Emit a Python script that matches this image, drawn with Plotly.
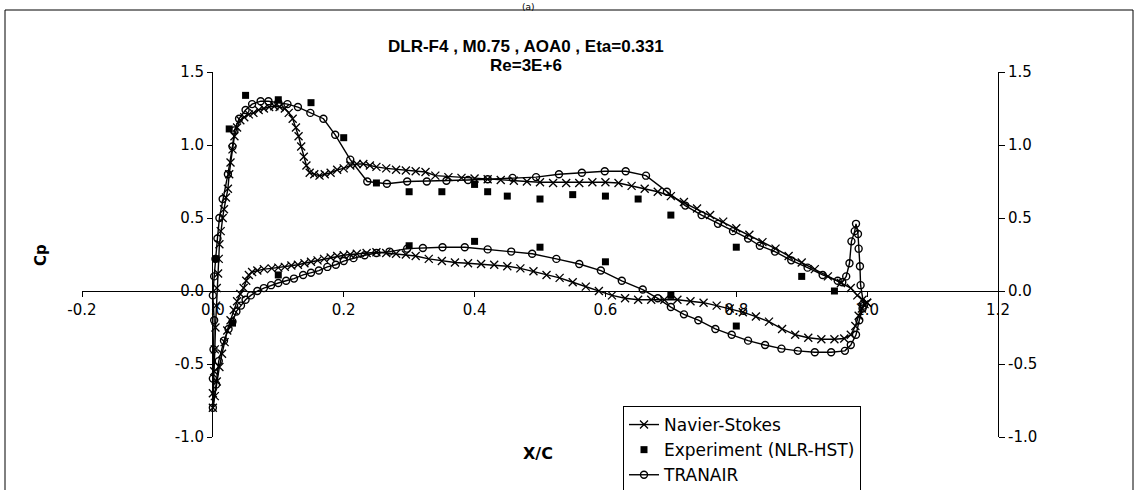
import plotly.graph_objects as go

# ---------------- data ----------------
ns_upper_x = [0.000, 0.000, 0.002, 0.003, 0.004, 0.005, 0.006, 0.008, 0.009, 0.010, 0.012, 0.015,
              0.017, 0.020, 0.023, 0.025, 0.027, 0.030, 0.033, 0.037, 0.042, 0.048, 0.055, 0.062,
              0.070, 0.078, 0.086, 0.094, 0.102, 0.110, 0.116, 0.122, 0.127, 0.131, 0.135, 0.139,
              0.143, 0.148, 0.155, 0.163, 0.171, 0.180, 0.190, 0.200, 0.210, 0.220, 0.230, 0.240,
              0.250, 0.265, 0.280, 0.295, 0.310, 0.325, 0.340, 0.360, 0.380, 0.400, 0.420, 0.440,
              0.460, 0.480, 0.500, 0.520, 0.540, 0.560, 0.580, 0.600, 0.620, 0.640, 0.660, 0.680,
              0.700, 0.720, 0.740, 0.760, 0.780, 0.800, 0.820, 0.840, 0.860, 0.880, 0.900, 0.920,
              0.940, 0.960, 0.975, 0.985, 0.993, 1.000]
ns_upper_y = [-0.80, -0.70, -0.55, -0.40, -0.25, -0.10, 0.02, 0.12, 0.22, 0.32, 0.41, 0.50,
              0.56, 0.64, 0.70, 0.80, 0.88, 0.97, 1.06, 1.12, 1.17, 1.19, 1.21, 1.22,
              1.24, 1.25, 1.26, 1.265, 1.26, 1.25, 1.22, 1.18, 1.12, 1.06, 0.99, 0.92,
              0.86, 0.81, 0.80, 0.79, 0.80, 0.81, 0.83, 0.84, 0.86, 0.87, 0.87, 0.86,
              0.85, 0.84, 0.83, 0.825, 0.82, 0.815, 0.79, 0.78, 0.775, 0.77, 0.765, 0.76,
              0.755, 0.75, 0.745, 0.74, 0.74, 0.74, 0.745, 0.745, 0.74, 0.72, 0.70, 0.68,
              0.65, 0.61, 0.565, 0.52, 0.475, 0.43, 0.385, 0.335, 0.29, 0.24, 0.195, 0.15,
              0.10, 0.055, 0.02, -0.03, -0.06, -0.08]

ns_lower_x = [0.000, 0.003, 0.006, 0.010, 0.014, 0.018, 0.022, 0.027, 0.032, 0.037, 0.042, 0.047,
              0.051, 0.055, 0.060, 0.068, 0.078, 0.090, 0.100, 0.110, 0.120, 0.130, 0.140, 0.150,
              0.160, 0.170, 0.180, 0.190, 0.200, 0.210, 0.220, 0.235, 0.250, 0.265, 0.280, 0.295,
              0.310, 0.330, 0.350, 0.370, 0.390, 0.410, 0.430, 0.450, 0.470, 0.490, 0.510, 0.530,
              0.550, 0.570, 0.590, 0.610, 0.630, 0.650, 0.670, 0.690, 0.710, 0.730, 0.750, 0.770,
              0.790, 0.810, 0.830, 0.850, 0.870, 0.890, 0.910, 0.930, 0.950, 0.965, 0.975, 0.982,
              0.987, 0.992, 0.996, 1.000]
ns_lower_y = [-0.80, -0.72, -0.62, -0.52, -0.43, -0.35, -0.27, -0.20, -0.13, -0.07, -0.02, 0.02,
              0.07, 0.11, 0.13, 0.14, 0.15, 0.155, 0.16, 0.165, 0.175, 0.18, 0.19, 0.20,
              0.21, 0.22, 0.23, 0.24, 0.245, 0.25, 0.255, 0.26, 0.265, 0.26, 0.255, 0.25,
              0.24, 0.22, 0.205, 0.195, 0.19, 0.185, 0.18, 0.17, 0.155, 0.135, 0.11, 0.09,
              0.06, 0.03, 0.00, -0.03, -0.05, -0.06, -0.06, -0.06, -0.06, -0.07, -0.08, -0.10,
              -0.12, -0.145, -0.175, -0.21, -0.26, -0.30, -0.32, -0.33, -0.33, -0.325, -0.30, -0.24,
              -0.17, -0.12, -0.09, -0.08]

tr_upper_x = [0.000, 0.000, 0.001, 0.002, 0.000, 0.002, 0.004, 0.007, 0.010, 0.015, 0.023, 0.030,
              0.033, 0.040, 0.050, 0.060, 0.073, 0.085, 0.100, 0.114, 0.130, 0.149, 0.169, 0.187,
              0.210, 0.236, 0.266, 0.297, 0.327, 0.357, 0.390, 0.420, 0.458, 0.494, 0.529, 0.564,
              0.599, 0.631, 0.662, 0.694, 0.722, 0.747, 0.772, 0.795, 0.818, 0.836, 0.859, 0.884,
              0.909, 0.932, 0.955, 0.962, 0.968, 0.973, 0.976, 0.981, 0.983, 0.986, 0.987, 0.989,
              0.990, 0.995]
tr_upper_y = [-0.80, -0.60, -0.40, -0.20, -0.03, 0.10, 0.22, 0.36, 0.50, 0.63, 0.80, 0.99,
              1.10, 1.18, 1.24, 1.28, 1.30, 1.30, 1.29, 1.28, 1.26, 1.22, 1.18, 1.07,
              0.90, 0.75, 0.735, 0.75, 0.75, 0.755, 0.76, 0.765, 0.775, 0.78, 0.80, 0.81,
              0.82, 0.82, 0.79, 0.68, 0.585, 0.52, 0.46, 0.41, 0.36, 0.31, 0.27, 0.21,
              0.16, 0.11, 0.07, 0.06, 0.10, 0.19, 0.34, 0.41, 0.46, 0.39, 0.29, 0.17,
              0.04, -0.10]

tr_lower_x = [0.000, 0.005, 0.009, 0.017, 0.024, 0.030, 0.036, 0.043, 0.050, 0.058, 0.068, 0.078,
              0.089, 0.100, 0.112, 0.124, 0.138, 0.150, 0.162, 0.175, 0.188, 0.200, 0.215, 0.232,
              0.250, 0.270, 0.297, 0.321, 0.351, 0.385, 0.420, 0.456, 0.488, 0.525, 0.560, 0.593,
              0.625, 0.657, 0.680, 0.700, 0.720, 0.742, 0.768, 0.793, 0.818, 0.844, 0.869, 0.894,
              0.920, 0.945, 0.966, 0.975, 0.983, 0.988, 0.993]
tr_lower_y = [-0.80, -0.64, -0.48, -0.34, -0.26, -0.21, -0.14, -0.10, -0.06, -0.03, 0.00, 0.02,
              0.04, 0.055, 0.07, 0.085, 0.11, 0.125, 0.14, 0.165, 0.18, 0.205, 0.225, 0.245,
              0.26, 0.27, 0.29, 0.295, 0.30, 0.30, 0.285, 0.27, 0.255, 0.22, 0.185, 0.14,
              0.07, 0.01, -0.05, -0.11, -0.16, -0.20, -0.26, -0.30, -0.34, -0.37, -0.395, -0.41,
              -0.42, -0.42, -0.41, -0.37, -0.30, -0.20, -0.12]

exp_x = [0.005, 0.025, 0.05, 0.10, 0.15, 0.20, 0.25, 0.30, 0.35, 0.40, 0.42, 0.45, 0.50, 0.55,
         0.60, 0.65, 0.70, 0.80, 0.90, 0.95,
         0.03, 0.10, 0.30, 0.40, 0.50, 0.60, 0.70, 0.80]
exp_y = [0.22, 1.11, 1.34, 1.31, 1.29, 1.05, 0.74, 0.68, 0.68, 0.73, 0.68, 0.65, 0.63, 0.66,
         0.65, 0.63, 0.52, 0.30, 0.10, 0.00,
         -0.22, 0.11, 0.31, 0.34, 0.30, 0.20, -0.03, -0.24]

x_ticks = [-0.2, 0.0, 0.2, 0.4, 0.6, 0.8, 1.0, 1.2]
y_ticks = [-1.0, -0.5, 0.0, 0.5, 1.0, 1.5]

title_line1 = "DLR-F4 , M0.75 , AOA0 , Eta=0.331"
title_line2 = "Re=3E+6"

# ---------------- figure ----------------
W, H = 1136, 490
L, R, T, B = 82, 998, 72, 437   # plot area in pixels


def px(xp):
    return (xp - L) / (R - L)


def py(yp):
    return (B - yp) / (B - T)


ns_x = ns_upper_x[::-1] + ns_lower_x[1:]
ns_y = ns_upper_y[::-1] + ns_lower_y[1:]
tr_x = tr_upper_x[::-1] + tr_lower_x[1:]
tr_y = tr_upper_y[::-1] + tr_lower_y[1:]

fig = go.Figure()
fig.add_trace(go.Scatter(
    x=ns_x, y=ns_y, mode="lines+markers", name="Navier-Stokes",
    line=dict(color="black", width=1.4),
    marker=dict(symbol="x-thin-open", size=8, color="black", line=dict(color="black", width=1.3))))
fig.add_trace(go.Scatter(
    x=exp_x, y=exp_y, mode="markers", name="Experiment (NLR-HST)",
    marker=dict(symbol="square", size=7, color="black")))
fig.add_trace(go.Scatter(
    x=tr_x, y=tr_y, mode="lines+markers", name="TRANAIR",
    line=dict(color="black", width=1.4),
    marker=dict(symbol="circle-open", size=7, color="black", line=dict(color="black", width=1.4))))

tickfont = dict(family="DejaVu Sans", size=15, color="black")

fig.update_layout(
    width=W, height=H,
    margin=dict(l=L, r=W - R, t=T, b=H - B, autoexpand=False),
    paper_bgcolor="white", plot_bgcolor="white",
    showlegend=True,
    legend=dict(x=px(623), y=py(406), xanchor="left", yanchor="top",
                bgcolor="white", bordercolor="black", borderwidth=1,
                font=dict(family="DejaVu Sans", size=17, color="black"),
                itemwidth=30, tracegroupgap=0),
    xaxis=dict(range=[-0.2, 1.2], tickvals=x_ticks, ticktext=[f"{v:.1f}" for v in x_ticks],
               showgrid=False, zeroline=False, showline=True, linecolor="black", linewidth=1,
               ticks="outside", ticklen=5, tickcolor="black", tickfont=tickfont,
               anchor="free", position=0.4),
    yaxis=dict(range=[-1.0, 1.5], tickvals=y_ticks, ticktext=[f"{v:.1f}" for v in y_ticks],
               showgrid=False, zeroline=False, showline=True, linecolor="black", linewidth=1,
               ticks="outside", ticklen=5, tickcolor="black", tickfont=tickfont,
               anchor="free", position=px(212)),
    yaxis2=dict(range=[-1.0, 1.5], tickvals=y_ticks, ticktext=[f"{v:.1f}" for v in y_ticks],
                overlaying="y", side="right", anchor="free", position=1.0,
                showgrid=False, zeroline=False, showline=True, linecolor="black", linewidth=1,
                ticks="outside", ticklen=6, tickcolor="black", tickfont=tickfont),
)

# invisible trace so the right axis is drawn
fig.add_trace(go.Scatter(x=[None], y=[None], yaxis="y2", showlegend=False, hoverinfo="skip"))

# outer frame
fig.add_shape(type="rect", xref="paper", yref="paper",
              x0=px(5), x1=px(1133), y0=py(495), y1=py(10),
              line=dict(color="black", width=1))

ann_font_b = dict(family="Liberation Sans", size=17, color="black")
fig.add_annotation(x=px(526), y=py(35), xref="paper", yref="paper", showarrow=False,
                   text=f"<b>{title_line1}</b>", font=ann_font_b)
fig.add_annotation(x=px(526), y=py(54), xref="paper", yref="paper", showarrow=False,
                   text=f"<b>{title_line2}</b>", font=ann_font_b)
fig.add_annotation(x=px(528), y=py(0), xref="paper", yref="paper", showarrow=False,
                   yanchor="top", text="(a)", font=dict(family="DejaVu Sans", size=9, color="black"))
fig.add_annotation(x=px(538), y=py(465), xref="paper", yref="paper", showarrow=False,
                   text="<b>X/C</b>", font=dict(family="DejaVu Sans", size=16, color="black"))
fig.add_annotation(x=px(30), y=py(255), xref="paper", yref="paper", showarrow=False,
                   text="<b>Cp</b>", textangle=-90,
                   font=dict(family="DejaVu Sans", size=15, color="black"))

fig.write_html("out.html")
